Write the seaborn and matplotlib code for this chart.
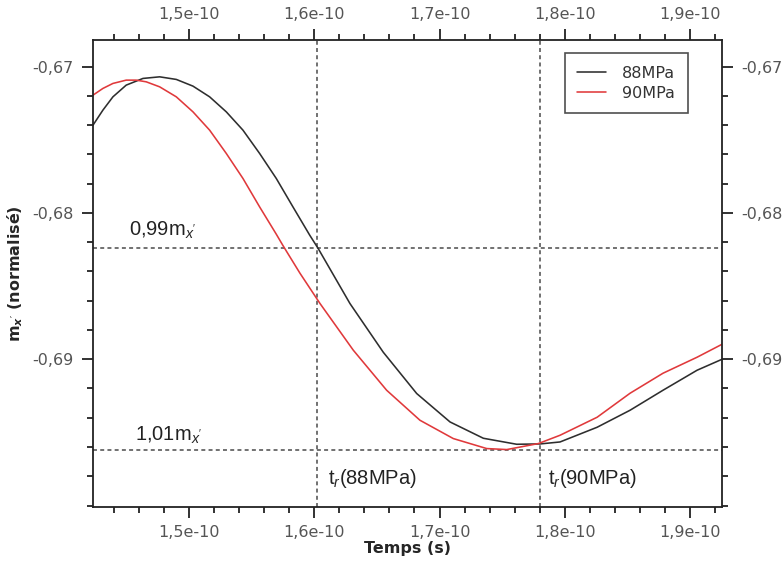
import numpy as np
import pandas as pd
import matplotlib
matplotlib.use("Agg")
import matplotlib.pyplot as plt
import matplotlib.ticker as mticker
import seaborn as sns

# temps (en 1e-10 s) et m_x'
t_88 = [1.4234, 1.4313, 1.4393, 1.4499, 1.4633, 1.4766, 1.4899, 1.5032, 1.5165,
        1.5298, 1.5431, 1.5564, 1.5697, 1.5830, 1.5964, 1.6030, 1.6285, 1.6551,
        1.6818, 1.7084, 1.7350, 1.7616, 1.7802, 1.7962, 1.8258, 1.8521, 1.8784,
        1.9056, 1.9256]
m_88 = [-0.674000, -0.672974, -0.672065, -0.671265, -0.670807, -0.670697, -0.670875,
        -0.671333, -0.672065, -0.673091, -0.674342, -0.675935, -0.677644, -0.679586,
        -0.681521, -0.682410, -0.686191, -0.689521, -0.692345, -0.694287, -0.695402,
        -0.695812, -0.695790, -0.695655, -0.694650, -0.693487, -0.692120, -0.690752,
        -0.690000]

t_90 = [1.4234, 1.4313, 1.4393, 1.4499, 1.4579, 1.4659, 1.4766, 1.4899, 1.5032,
        1.5165, 1.5298, 1.5431, 1.5564, 1.5697, 1.5751, 1.5886, 1.6046, 1.6312,
        1.6578, 1.6844, 1.7110, 1.7377, 1.7537, 1.7789, 1.7962, 1.8258, 1.8521,
        1.8784, 1.9056, 1.9256]
m_90 = [-0.671949, -0.671491, -0.671149, -0.670923, -0.670923, -0.671039, -0.671381,
        -0.672065, -0.673091, -0.674342, -0.675935, -0.677644, -0.679586, -0.681453,
        -0.682239, -0.684120, -0.686191, -0.689385, -0.692120, -0.694171, -0.695422,
        -0.696106, -0.696174, -0.695764, -0.695197, -0.693966, -0.692325, -0.690957,
        -0.689863, -0.688974]

m_ref = -0.6893            # m_x' de reference
seuils = [0.99, 1.01]      # 0,99 m_x' et 1,01 m_x'
t_r = [1.602e-10, 1.780e-10]   # t_r(88MPa), t_r(90MPa)
labels = ["88MPa", "90MPa"]
xticks = [1.5e-10, 1.6e-10, 1.7e-10, 1.8e-10, 1.9e-10]
yticks = [-0.69, -0.68, -0.67]

df = pd.concat([
    pd.DataFrame({"t": np.array(t_88) * 1e-10, "m": m_88, "serie": labels[0]}),
    pd.DataFrame({"t": np.array(t_90) * 1e-10, "m": m_90, "serie": labels[1]}),
])

sns.set_theme(style="ticks")
plt.rcParams["font.family"] = ["DejaVu Sans"]
plt.rcParams["mathtext.fontset"] = "custom"
plt.rcParams["mathtext.rm"] = "Liberation Sans"
plt.rcParams["mathtext.it"] = "Liberation Sans:italic"
plt.rcParams["mathtext.bf"] = "DejaVu Sans:bold:italic"

fig = plt.figure(figsize=(7.83, 5.63), dpi=100)
ax = fig.add_axes([93 / 783, 56 / 563, 629 / 783, 467 / 563])

sns.lineplot(data=df, x="t", y="m", hue="serie",
             palette={"88MPa": "#2e2e2e", "90MPa": "#e0393b"},
             linewidth=1.15, ax=ax)

grid_kw = dict(color="#666666", linewidth=1.3, linestyle=(0, (2.2, 1.8)), zorder=1)
for s in seuils:
    ax.axhline(m_ref * s, **grid_kw)
for t in t_r:
    ax.axvline(t, **grid_kw)

ax.set_xlim(1.4234e-10, 1.9255e-10)
ax.set_ylim(-0.7001, -0.66818)

ax.xaxis.set_major_locator(mticker.FixedLocator(xticks))
ax.xaxis.set_minor_locator(mticker.MultipleLocator(2e-12))
ax.yaxis.set_major_locator(mticker.FixedLocator(yticks))
ax.yaxis.set_minor_locator(mticker.MultipleLocator(0.002))
ax.xaxis.set_major_formatter(mticker.FuncFormatter(
    lambda v, p: f"{v * 1e10:.1f}e-10".replace(".", ",")))
ax.yaxis.set_major_formatter(mticker.FuncFormatter(
    lambda v, p: f"{v:.2f}".replace(".", ",")))

ax.tick_params(which="both", direction="out", top=True, right=True,
               labeltop=True, labelright=True, color="#222222", width=1.3)
ax.tick_params(which="major", length=8, labelsize=11.5, labelcolor="#555555")
ax.tick_params(axis="x", which="major", pad=5)
ax.tick_params(axis="y", which="major", pad=6)
ax.tick_params(which="minor", length=4.5)
for sp in ax.spines.values():
    sp.set_visible(True)
    sp.set_linewidth(1.3)
    sp.set_color("#222222")

ax.set_xlabel("Temps (s)", fontsize=11.5, fontweight="bold", labelpad=1)
ax.set_ylabel(r"m$_{\mathbf{x'}}$ (normalisé)", fontsize=11.5, fontweight="bold", labelpad=5)

txt_kw = dict(fontsize=14.5, family=["Liberation Sans", "DejaVu Sans"], color="#222222",
              va="baseline")
ax.text(1.4521e-10, -0.681541, r"0,99m$_{x'}$", **txt_kw)
ax.text(1.4569e-10, -0.695582, r"1,01m$_{x'}$", **txt_kw)
ax.text(1.6109e-10, -0.698530, r"t$_r$(88MPa)", **txt_kw)
ax.text(1.7865e-10, -0.698530, r"t$_r$(90MPa)", **txt_kw)

leg = ax.legend(loc="upper right", bbox_to_anchor=(0.946, 0.972), borderaxespad=0,
                fontsize=11.5, frameon=True, fancybox=False, handlelength=1.8,
                borderpad=0.8, labelspacing=0.3, handletextpad=1.0)
leg.get_frame().set_edgecolor("#222222")
leg.get_frame().set_linewidth(1.2)
for t in leg.get_texts():
    t.set_color("#333333")

fig.savefig("out.png", dpi=100)
